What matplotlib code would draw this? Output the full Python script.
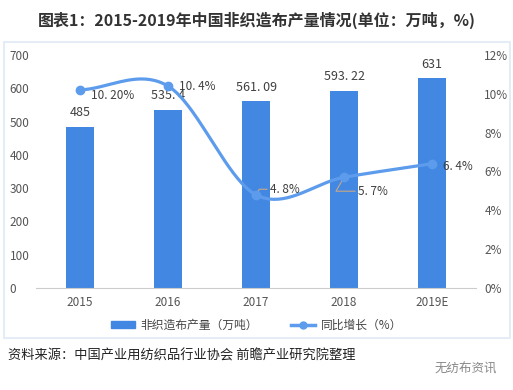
import numpy as np
import matplotlib.pyplot as plt
from matplotlib.patches import Rectangle
from matplotlib.lines import Line2D
from matplotlib.patches import Patch

plt.rcParams['font.family'] = ['Noto Sans CJK SC', 'DejaVu Sans']

# 数据
years = ['2015', '2016', '2017', '2018', '2019E']
output = [485, 535.4, 561.09, 593.22, 631]
output_labels = ['485', '535. 4', '561. 09', '593. 22', '631']
growth = [10.2, 10.4, 4.8, 5.7, 6.4]
growth_labels = ['10. 20%', '10. 4%', '4. 8%', '5. 7%', '6. 4%']

bar_color = '#4287e1'
line_color = '#5d9cec'
txt_color = '#404040'


def catmull_rom(x, y, n=40):
    # curva suavizada que pasa por los puntos
    x = np.asarray(x, float)
    y = np.asarray(y, float)
    m = np.gradient(y, x, edge_order=1)
    m[1:-1] = (y[2:] - y[:-2]) / (x[2:] - x[:-2])
    xs, ys = [], []
    for i in range(len(x) - 1):
        t = np.linspace(0, 1, n)
        h = x[i + 1] - x[i]
        h00 = 2 * t**3 - 3 * t**2 + 1
        h10 = t**3 - 2 * t**2 + t
        h01 = -2 * t**3 + 3 * t**2
        h11 = t**3 - t**2
        xs.append(x[i] + t * h)
        ys.append(h00 * y[i] + h10 * h * m[i] + h01 * y[i + 1] + h11 * h * m[i + 1])
    return np.concatenate(xs), np.concatenate(ys)


fig = plt.figure(figsize=(5.13, 3.9), dpi=100)

# marco del panel
fig.patches.append(Rectangle((4 / 513, 52 / 390), 506 / 513, 296 / 390,
                             transform=fig.transFigure, fill=False,
                             edgecolor='#e6ecf6', linewidth=1.5))

fig.text(0.5, 1 - 20 / 390, '图表1：2015-2019年中国非织造布产量情况(单位：万吨，%)',
         ha='center', va='center', fontsize=11.5, fontweight='bold', color='#333333')

ax = fig.add_axes([36 / 513, 102 / 390, 440 / 513, 233 / 390])
x = np.arange(len(years))
bars = ax.bar(x, output, width=0.32, color=bar_color, zorder=2)
for xi, v, lab in zip(x, output, output_labels):
    ax.text(xi, v + 22, lab, ha='center', va='bottom', fontsize=9, color=txt_color)

ax.set_xlim(-0.5, len(years) - 0.5)
ax.set_ylim(0, 700)
ax.set_yticks(range(0, 701, 100))
ax.set_xticks(x)
ax.set_xticklabels(years)
for s in ['top', 'right', 'left']:
    ax.spines[s].set_visible(False)
ax.spines['bottom'].set_color('#cccccc')
ax.tick_params(axis='both', length=0, labelsize=8.5, colors='#555555')
ax.tick_params(axis='y', pad=19)
for t in ax.get_yticklabels():
    t.set_horizontalalignment('left')
ax.tick_params(axis='x', pad=6)

ax2 = ax.twinx()
ax2.set_ylim(0, 12)
ax2.set_yticks(range(0, 13, 2))
ax2.set_yticklabels([f'{v}%' for v in range(0, 13, 2)])
for s in ax2.spines.values():
    s.set_visible(False)
ax2.tick_params(axis='y', length=0, labelsize=8.5, colors='#555555', pad=6)

sx, sy = catmull_rom(x, growth)
ax2.plot(sx, sy, color=line_color, linewidth=2.3, zorder=3)
ax2.plot(x, growth, 'o', color=line_color, markersize=6, zorder=4)

offsets = [(8, -4), (8, 0), (10, 4), (10, -10), (8, -2)]
for i, (xi, g, lab) in enumerate(zip(x, growth, growth_labels)):
    dx, dy = offsets[i]
    if i in (2, 3):
        ax2.annotate(lab, (xi, g), xytext=(dx, dy), textcoords='offset points',
                     fontsize=8.5, color=txt_color, va='center', ha='left',
                     arrowprops=dict(arrowstyle='-', color='#c8a888', lw=0.8,
                                     connectionstyle='angle,angleA=0,angleB=60,rad=0',
                                     shrinkA=0, shrinkB=2))
    else:
        ax2.annotate(lab, (xi, g), xytext=(dx, dy), textcoords='offset points',
                     fontsize=8.5, color=txt_color, va='center', ha='left')

handles = [Patch(color=bar_color),
           Line2D([0], [0], color=line_color, lw=2.5, marker='o', markersize=5)]
fig.legend(handles, ['非织造布产量（万吨）', '同比增长（%）'], loc='center',
           bbox_to_anchor=(0.5, 1 - 325 / 390), ncol=2, frameon=False,
           fontsize=8.5, handlelength=2.0, handleheight=0.5, handletextpad=0.5,
           columnspacing=2.8, labelcolor='#444444')

fig.text(8 / 513, 1 - 356 / 390, '资料来源：中国产业用纺织品行业协会 前瞻产业研究院整理',
         ha='left', va='center', fontsize=9.5, color='#222222')
fig.text(497 / 513, 1 - 369 / 390, '无纺布资讯', ha='right', va='center',
         fontsize=9, color='#888888')

fig.savefig('out.png', dpi=100)
